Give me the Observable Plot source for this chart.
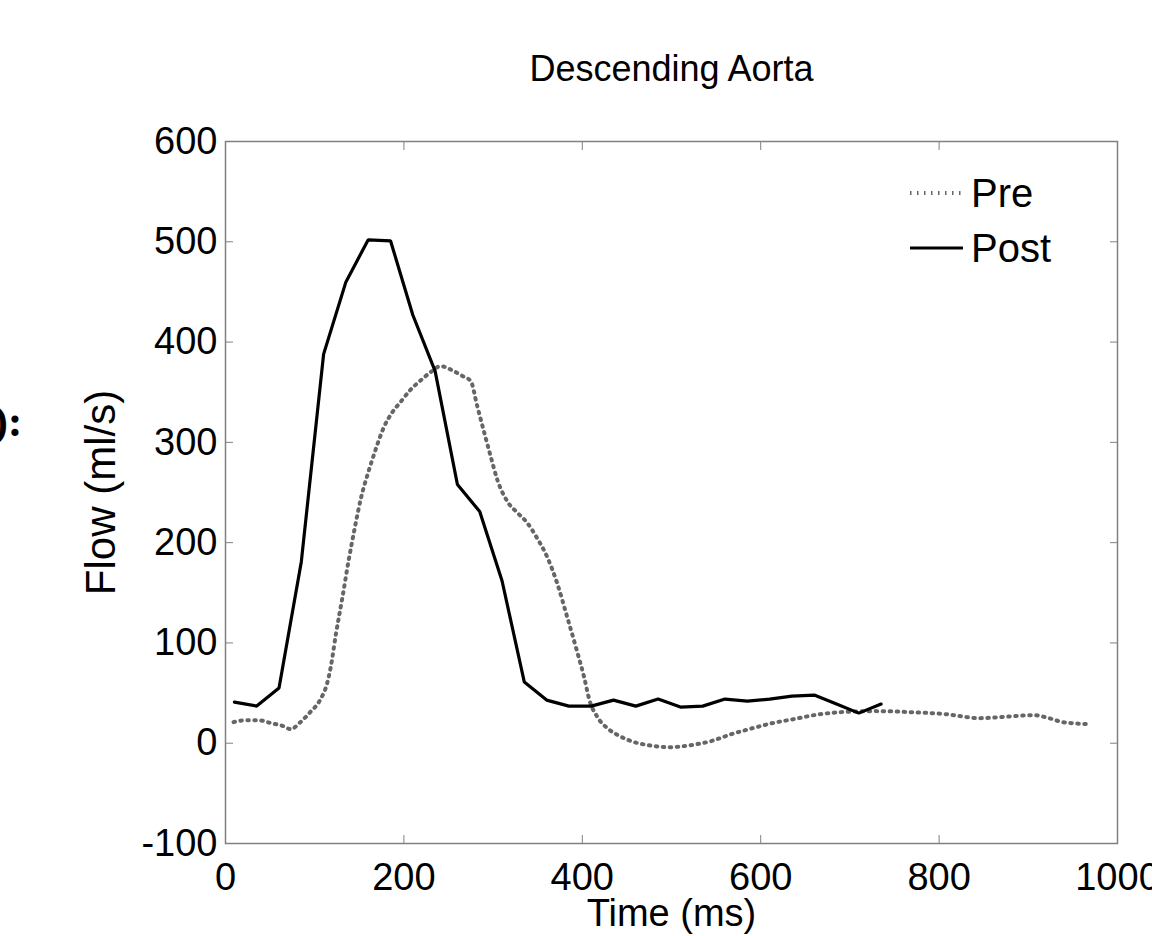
<!DOCTYPE html>
<html><head><meta charset="utf-8">
<script src="https://cdn.jsdelivr.net/npm/d3@7"></script>
<script src="https://cdn.jsdelivr.net/npm/@observablehq/plot@0.6"></script>
<style>
body{margin:0;background:#fff;}
#chart{width:1152px;height:936px;overflow:hidden;}
</style>
</head><body><div id="chart"></div>
<script>
const title = "Descending Aorta";
const xLabel = "Time (ms)";
const yLabel = "Flow (ml/s)";
const panelLabel = "D):";
const xTicks = [0, 200, 400, 600, 800, 1000];
const yTicks = [-100, 0, 100, 200, 300, 400, 500, 600];
const seriesNames = ["Pre", "Post"];

const preTime = [9, 23, 37, 51, 65, 73, 84, 95, 106, 114, 118, 124, 131, 138, 145, 152, 160, 168, 177, 187, 196, 207, 219, 230, 241, 256, 266, 275, 282, 290, 297, 305, 316, 327, 338, 349, 361, 372, 383, 394, 402, 408, 417, 428, 440, 455, 474, 497, 521, 544, 567, 591, 613, 637, 660, 690, 729, 768, 807, 845, 884, 906, 923, 939, 970];
const preFlow = [21, 23, 23, 20, 17, 14, 21, 31, 43, 60, 76, 110, 145, 182, 215, 245, 270, 292, 314, 330, 340, 352, 362, 370, 376, 371, 366, 361, 337, 310, 287, 262, 241, 230, 220, 205, 185, 159, 126, 92, 66, 43, 26, 15, 8, 2, -2, -4, -2, 2, 9, 15, 20, 24, 28, 31, 32, 31, 29, 25, 27, 28, 25, 21, 19];

const postTime = [10, 35, 60, 85, 110, 135, 160, 185, 210, 235, 260, 285, 310, 335, 360, 385, 410, 435, 460, 485, 510, 535, 560, 585, 610, 635, 660, 685, 710, 735];
const postFlow = [41, 37, 55, 181, 388, 460, 502, 501, 427, 371, 258, 231, 162, 61, 43, 37, 37, 43, 37, 44, 36, 37, 44, 42, 44, 47, 48, 39, 30, 39];

const pre = preTime.map((t, i) => ({t, f: preFlow[i]}));
const post = postTime.map((t, i) => ({t, f: postFlow[i]}));

const font = "'Liberation Sans', Arial, Helvetica, sans-serif";
const fs = 38;
const boxColor = "#808080";
const preStyle = {stroke: "#666", strokeWidth: 4, strokeDasharray: "1.5,5.5"};
const postStyle = {stroke: "#000", strokeWidth: 3.2, strokeDasharray: null};
const styles = [preStyle, postStyle];
const fmt = d => String(d);

function legend(index, scales, values, dims) {
  const g = d3.create("svg:g").attr("font-family", font).attr("font-size", 40).attr("text-anchor", "start");
  const right = dims.width - dims.marginRight;
  const top = dims.marginTop;
  seriesNames.forEach((name, i) => {
    const s = styles[i];
    const cy = top + 52 + i * 55;
    g.append("line")
      .attr("x1", right - 207).attr("x2", right - 154)
      .attr("y1", cy).attr("y2", cy)
      .attr("stroke", s.stroke).attr("stroke-width", s.strokeWidth)
      .attr("stroke-dasharray", s.strokeDasharray);
    g.append("text")
      .attr("x", right - 146).attr("y", cy)
      .attr("dy", "0.36em")
      .attr("fill", "#000")
      .attr("text-anchor", "start")
      .text(name);
  });
  return g.node();
}

const chart = Plot.plot({
  width: 1152,
  height: 936,
  marginLeft: 225,
  marginRight: 35,
  marginTop: 141,
  marginBottom: 93,
  style: {fontFamily: font, fontSize: fs + "px", color: "#000", background: "#fff"},
  x: {domain: [0, 1000]},
  y: {domain: [-100, 600]},
  marks: [
    Plot.frame({stroke: boxColor, strokeWidth: 1.5}),
    Plot.axisX({ticks: xTicks, tickSize: 0, tickPadding: 20, tickFormat: fmt, label: null, fontSize: fs}),
    Plot.axisX({ticks: xTicks, tickSize: -8, tickFormat: () => "", label: null, stroke: boxColor}),
    Plot.axisX({anchor: "top", ticks: xTicks, tickSize: -8, tickFormat: () => "", label: null, stroke: boxColor}),
    Plot.axisY({ticks: yTicks, tickSize: 0, tickPadding: 8, tickFormat: fmt, label: null, fontSize: fs}),
    Plot.axisY({ticks: yTicks, tickSize: -8, tickFormat: () => "", label: null, stroke: boxColor}),
    Plot.axisY({anchor: "right", ticks: yTicks, tickSize: -8, tickFormat: () => "", label: null, stroke: boxColor}),
    Plot.line(pre, {x: "t", y: "f", ...preStyle, curve: "monotone-x"}),
    Plot.line(post, {x: "t", y: "f", ...postStyle, strokeLinejoin: "miter"}),
    Plot.text([title], {frameAnchor: "top", dy: -72, textAnchor: "middle", lineAnchor: "middle", fontSize: 36, fill: "#000"}),
    Plot.text([xLabel], {frameAnchor: "bottom", dy: 70, textAnchor: "middle", lineAnchor: "middle", fontSize: fs, fill: "#000"}),
    Plot.text([yLabel], {frameAnchor: "left", dx: -124, rotate: -90, textAnchor: "middle", lineAnchor: "middle", fontSize: 42, fill: "#000"}),
    Plot.text([panelLabel], {frameAnchor: "left", dx: -203, dy: -71, textAnchor: "end", lineAnchor: "middle", fontSize: 44, fontWeight: "bold", fontFamily: "'Liberation Serif', 'Times New Roman', serif", fill: "#000"}),
    legend
  ]
});
document.getElementById("chart").appendChild(chart);
</script>
</body></html>
